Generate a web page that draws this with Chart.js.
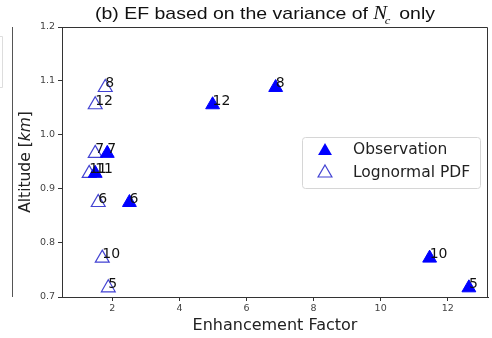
<!DOCTYPE html>
<html>
<head>
<meta charset="utf-8">
<script src="https://cdn.jsdelivr.net/npm/chart.js@4.4.1/dist/chart.umd.min.js"></script>
<style>
  html, body { margin: 0; padding: 0; background: #fff; }
  #wrap { width: 492px; height: 338px; position: relative; }
</style>
</head>
<body>
<div id="wrap"><canvas id="efChart" width="492" height="338"></canvas></div>
<script>
// Enhancement factor vs altitude, one value per flight level
const labels = ['8', '12', '7', '11', '6', '10', '5'];
const altitude = [1.088, 1.056, 0.966, 0.929, 0.875, 0.772, 0.717];
const efObservation = [6.87, 4.99, 1.85, 1.49, 2.51, 11.46, 12.63];
const efLognormal = [1.79, 1.49, 1.49, 1.31, 1.58, 1.70, 1.88];

const xTicks = [2, 4, 6, 8, 10, 12];
const yTicks = [0.7, 0.8, 0.9, 1.0, 1.1, 1.2];

const BLUE = '#0000ff';
const HOLLOW = 'rgba(45, 45, 205, 0.9)';

function toPoints(xs) {
    return xs.map((x, i) => ({ x: x, y: altitude[i] }));
}

function triangle(ctx, x, y, r, fill, stroke) {
    ctx.beginPath();
    let rad = 0;
    ctx.moveTo(x + Math.sin(rad) * r, y - Math.cos(rad) * r);
    rad += Math.PI * 2 / 3;
    ctx.lineTo(x + Math.sin(rad) * r, y - Math.cos(rad) * r);
    rad += Math.PI * 2 / 3;
    ctx.lineTo(x + Math.sin(rad) * r, y - Math.cos(rad) * r);
    ctx.closePath();
    if (fill) { ctx.fillStyle = fill; ctx.fill(); }
    if (stroke) { ctx.strokeStyle = stroke; ctx.lineWidth = 1.2; ctx.stroke(); }
}

// text runs with their own fonts, stretched to a given width
function drawRuns(ctx, runs, x, y, width) {
    let natural = 0;
    runs.forEach(r => { ctx.font = r.font; natural += ctx.measureText(r.text).width + (r.dx || 0); });
    const sx = width ? width / natural : 1;
    ctx.save();
    ctx.translate(x, y);
    ctx.scale(sx, 1);
    let cx = 0;
    runs.forEach(r => {
        ctx.font = r.font;
        ctx.fillText(r.text, cx + (r.shift || 0), r.dy || 0);
        cx += ctx.measureText(r.text).width + (r.dx || 0);
    });
    ctx.restore();
    return natural * sx;
}

// frame, titles, point numbers and legend
const decorations = {
    id: 'decorations',
    beforeDraw(chart) {
        const ctx = chart.ctx;
        const area = chart.chartArea;
        ctx.save();
        // edge of the neighbouring panel (a)
        ctx.strokeStyle = '#555';
        ctx.lineWidth = 1;
        ctx.beginPath();
        ctx.moveTo(12.5, area.top);
        ctx.lineTo(12.5, area.bottom);
        ctx.stroke();
        ctx.strokeStyle = '#ddd';
        ctx.beginPath();
        ctx.moveTo(-2, 36.5);
        ctx.lineTo(2.5, 36.5);
        ctx.lineTo(2.5, 87.5);
        ctx.lineTo(-2, 87.5);
        ctx.stroke();
        ctx.restore();
    },
    afterDatasetsDraw(chart) {
        const ctx = chart.ctx;
        const area = chart.chartArea;
        ctx.save();

        // top and right spines
        ctx.strokeStyle = '#333';
        ctx.lineWidth = 1;
        ctx.beginPath();
        ctx.moveTo(area.left, area.top + 0.5);
        ctx.lineTo(area.right - 0.5, area.top + 0.5);
        ctx.lineTo(area.right - 0.5, area.bottom);
        ctx.stroke();

        // level numbers next to each marker
        ctx.fillStyle = '#111';
        ctx.font = '14px "DejaVu Sans"';
        ctx.textAlign = 'left';
        ctx.textBaseline = 'alphabetic';
        chart.data.datasets.forEach((ds, di) => {
            const meta = chart.getDatasetMeta(di);
            meta.data.forEach((pt, i) => {
                ctx.fillText(labels[i], pt.x, pt.y);
            });
        });

        // legend box
        const lx = area.right - 186, ly = area.top + 110, lw = 178, lh = 51;
        ctx.fillStyle = 'rgba(255,255,255,0.85)';
        ctx.strokeStyle = '#d6d6d6';
        ctx.beginPath();
        ctx.roundRect(lx + 0.5, ly + 0.5, lw, lh, 3);
        ctx.fill();
        ctx.stroke();
        triangle(ctx, lx + 23, ly + 14, 8, BLUE, null);
        triangle(ctx, lx + 23, ly + 36, 8, null, HOLLOW);
        ctx.fillStyle = '#222';
        ctx.font = '15.5px "DejaVu Sans"';
        ctx.textBaseline = 'middle';
        ctx.fillText('Observation', lx + 51, ly + 13);
        ctx.fillText('Lognormal PDF', lx + 51, ly + 36);

        // title with italic N_c
        ctx.textBaseline = 'alphabetic';
        ctx.fillStyle = '#111';
        drawRuns(ctx, [
            { text: '(b) EF based on the variance of ', font: '17px "Liberation Sans"' },
            { text: 'N', font: 'italic 18px "Liberation Serif"' },
            { text: 'c', font: 'italic 11px "Liberation Serif"', dy: 5, shift: -2, dx: 1 },
            { text: ' only', font: '17px "Liberation Sans"' }
        ], 95, 19, 340);

        // axis titles
        ctx.fillStyle = '#222';
        ctx.font = '16px "DejaVu Sans"';
        ctx.textAlign = 'center';
        ctx.fillText('Enhancement Factor', (area.left + area.right) / 2, 330);

        ctx.textAlign = 'left';
        ctx.translate(30, (area.top + area.bottom) / 2);
        ctx.rotate(-Math.PI / 2);
        const yRuns = [
            { text: 'Altitude [', font: '15.5px "DejaVu Sans"' },
            { text: 'km', font: 'italic 15.5px "DejaVu Sans"' },
            { text: ']', font: '15.5px "DejaVu Sans"' }
        ];
        let yw = 0;
        yRuns.forEach(r => { ctx.font = r.font; yw += ctx.measureText(r.text).width; });
        drawRuns(ctx, yRuns, -yw / 2, 0);

        ctx.restore();
    }
};

new Chart(document.getElementById('efChart'), {
    type: 'scatter',
    data: {
        datasets: [{
            label: 'Observation',
            data: toPoints(efObservation),
            pointStyle: 'triangle',
            pointRadius: 8,
            pointHoverRadius: 8,
            backgroundColor: BLUE,
            borderColor: BLUE,
            borderWidth: 1
        }, {
            label: 'Lognormal PDF',
            data: toPoints(efLognormal),
            pointStyle: 'triangle',
            pointRadius: 8,
            pointHoverRadius: 8,
            backgroundColor: 'rgba(0,0,0,0)',
            borderColor: HOLLOW,
            borderWidth: 1.2
        }]
    },
    options: {
        responsive: false,
        animation: false,
        devicePixelRatio: 1,
        layout: { autoPadding: false, padding: { top: 27, right: 4, left: 0, bottom: 0 } },
        plugins: {
            legend: { display: false },
            tooltip: { enabled: false },
            title: { display: false }
        },
        scales: {
            x: {
                type: 'linear',
                min: 0.5,
                max: 13.2,
                afterBuildTicks: scale => { scale.ticks = xTicks.map(v => ({ value: v })); },
                afterFit: scale => { scale.height = 41; },
                grid: { drawOnChartArea: false, drawTicks: true, tickLength: 4, color: '#333' },
                border: { display: true, color: '#333', width: 1 },
                ticks: {
                    color: '#444',
                    font: { family: 'DejaVu Sans', size: 9.5 },
                    padding: 2,
                    maxRotation: 0,
                    callback: v => String(v)
                }
            },
            y: {
                type: 'linear',
                min: 0.7,
                max: 1.2,
                afterBuildTicks: scale => { scale.ticks = yTicks.map(v => ({ value: v })); },
                afterFit: scale => { scale.width = 62; },
                grid: { drawOnChartArea: false, drawTicks: true, tickLength: 4, color: '#333' },
                border: { display: true, color: '#333', width: 1 },
                ticks: {
                    color: '#444',
                    font: { family: 'DejaVu Sans', size: 9.5 },
                    padding: 3,
                    callback: v => v.toFixed(1)
                }
            }
        }
    },
    plugins: [decorations]
});
</script>
</body>
</html>
